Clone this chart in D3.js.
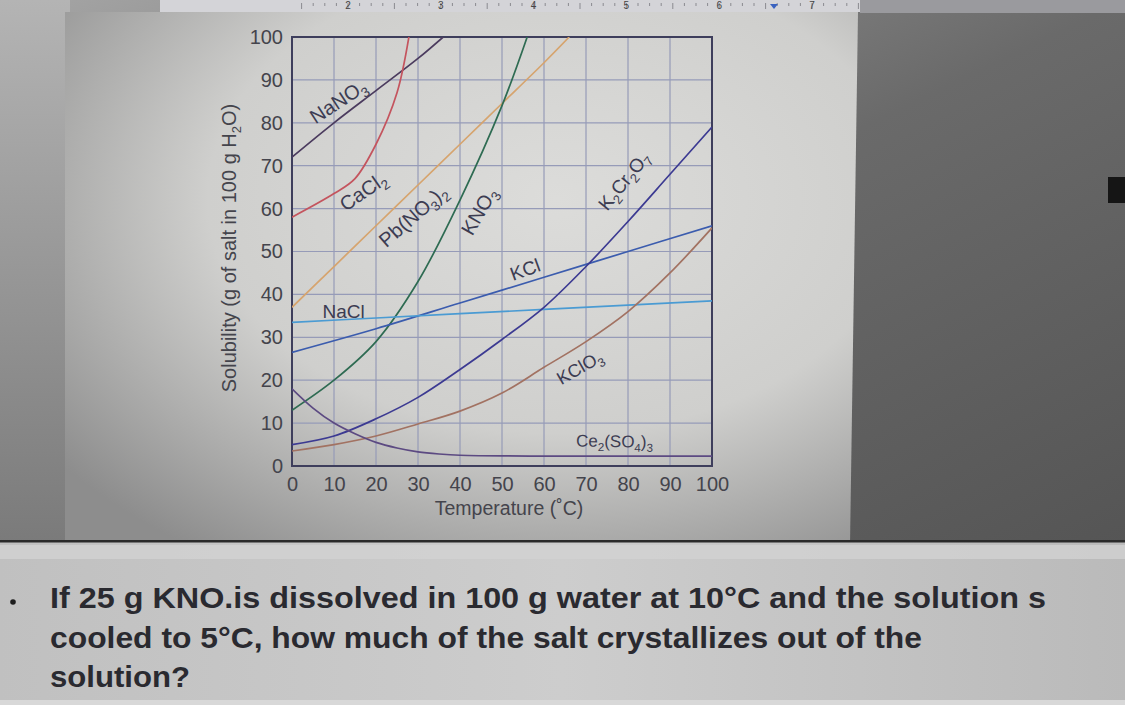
<!DOCTYPE html>
<html><head><meta charset="utf-8">
<script src="https://cdn.jsdelivr.net/npm/d3@7"></script>
<style>
html,body{margin:0;padding:0;background:#9a9a9a;}
svg{display:block;font-family:"Liberation Sans",Arial,sans-serif;}
</style></head>
<body>
<svg id="c" width="1125" height="705"></svg>
<script>
// ---------- data ----------
const xTicks = [0,10,20,30,40,50,60,70,80,90,100];
const yTicks = [0,10,20,30,40,50,60,70,80,90,100];
const NaNO3  = [[0,72],[10,80],[20,87.5],[30,95],[36,100]];
const CaCl2  = [[0,58],[10,63.5],[15,67],[20,75],[25,87],[28,101]];
const PbNO32 = [[0,37],[10,46.5],[20,56],[30,65.5],[40,75],[50,84.5],[60,94],[66,100]];
const KNO3   = [[0,13],[10,20],[20,29],[30,43],[40,62],[50,84],[56,100]];
const KCl    = [[0,26.5],[20,32],[40,38],[60,44],[80,50],[100,56]];
const NaCl   = [[0,33.5],[20,34.5],[40,35.5],[60,36.5],[80,37.5],[100,38.5]];
const KClO3  = [[0,3.5],[10,5],[20,7],[30,9.8],[40,12.8],[50,17],[60,23],[70,29],[80,36],[90,45],[100,55.5]];
const K2Cr2O7= [[0,5],[10,7],[20,11],[30,16],[40,22.5],[50,29.5],[60,37],[70,46.5],[80,57],[90,68],[100,79]];
const Ce2SO43= [[0,18],[5,13.5],[10,10],[15,7.5],[20,5.5],[25,4.2],[30,3.3],[35,2.8],[40,2.5],[60,2.3],[80,2.3],[100,2.3]];
const seriesNames = ["NaNO3","CaCl2","Pb(NO3)2","KNO3","KCl","NaCl","KClO3","K2Cr2O7","Ce2(SO4)3"];
const seriesData  = [NaNO3,CaCl2,PbNO32,KNO3,KCl,NaCl,KClO3,K2Cr2O7,Ce2SO43];
const rulerNums = ["2","3","4","5","6","7"];
const questionLines = [
  "If 25 g KNO.is dissolved in 100 g water at 10°C and the solution s",
  "cooled to 5°C, how much of the salt crystallizes out of the",
  "solution?"
];

// ---------- styling ----------
const colors = ["#4b3b5e","#c4545e","#d6a46e","#2e6b52","#3b5cae","#4a9bd3","#a27262","#3c3a92","#5c4a82"];
// label anchors (temperature, solubility), rotation, font size
const labelPos = [[11,85,-33,20],[16.9,64,-35,20],[28.8,58.3,-41,20],[44.5,59.4,-60,20],[55.5,45.8,-20,19],[12.3,36,0,19],[68.5,23,-30,18],[79,66.5,-51,19],[76.8,5.8,1,17]];

const svg = d3.select("#c");
const defs = svg.append("defs");

// background gradients
const g1 = defs.append("radialGradient").attr("id","pageG").attr("cx","0.62").attr("cy","0.35").attr("r","0.8");
g1.append("stop").attr("offset","0").attr("stop-color","#dcdcda");
g1.append("stop").attr("offset","0.55").attr("stop-color","#cfcfcd");
g1.append("stop").attr("offset","1").attr("stop-color","#8d8d8d");
const g2 = defs.append("linearGradient").attr("id","rightG").attr("x1","0").attr("x2","1").attr("y1","0").attr("y2","1");
g2.append("stop").attr("offset","0").attr("stop-color","#a6a6a6");
g2.append("stop").attr("offset","0.5").attr("stop-color","#6a6a6a");
g2.append("stop").attr("offset","1").attr("stop-color","#555555");
const g3 = defs.append("linearGradient").attr("id","leftG").attr("x1","0").attr("x2","0").attr("y1","0").attr("y2","1");
g3.append("stop").attr("offset","0").attr("stop-color","#b4b4b4");
g3.append("stop").attr("offset","1").attr("stop-color","#7a7a7a");
const g4 = defs.append("linearGradient").attr("id","botG").attr("x1","0").attr("x2","1").attr("y1","0").attr("y2","0");
g4.append("stop").attr("offset","0").attr("stop-color","#c0c0c0");
g4.append("stop").attr("offset","0.5").attr("stop-color","#cdcdcd");
g4.append("stop").attr("offset","1").attr("stop-color","#bababa");

svg.append("rect").attr("x",0).attr("y",0).attr("width",1125).attr("height",545).attr("fill","url(#rightG)");
svg.append("rect").attr("x",0).attr("y",0).attr("width",70).attr("height",545).attr("fill","url(#leftG)");
svg.append("path").attr("d","M65,12 L858,12 L850,545 L65,545 Z").attr("fill","url(#pageG)");
// ruler
svg.append("rect").attr("x",160).attr("y",0).attr("width",700).attr("height",12).attr("fill","#d4d4d8");
svg.append("rect").attr("x",860).attr("y",0).attr("width",265).attr("height",13).attr("fill","#9a9a9e");
const rs = d3.scaleLinear().domain([2,7]).range([348,812]);
const rticks = d3.range(1.5,7.6,0.125);
svg.append("g").selectAll("line").data(rticks).join("line")
  .attr("x1",d=>rs(d)).attr("x2",d=>rs(d)).attr("y1",3).attr("y2",d=>d%0.5===0?9:6)
  .attr("stroke","#8a8a90").attr("stroke-width",1);
svg.append("g").selectAll("text").data(rulerNums).join("text")
  .attr("x",d=>rs(+d)).attr("y",9).attr("text-anchor","middle")
  .attr("font-size",10).attr("fill","#444").text(d=>d);
svg.append("path").attr("d","M770,4 l8,0 l-4,5 z").attr("fill","#3a62c0");
svg.append("rect").attr("x",1108).attr("y",177).attr("width",17).attr("height",26).attr("fill","#151515");

// ---------- chart ----------
const x = d3.scaleLinear().domain([0,100]).range([292,712]);
const y = d3.scaleLinear().domain([0,100]).range([466,37]);

defs.append("clipPath").attr("id","plotClip").append("rect")
  .attr("x",x(0)).attr("y",y(100)).attr("width",x(100)-x(0)).attr("height",y(0)-y(100));

// grid
const grid = svg.append("g");
grid.selectAll(".vg").data(xTicks.slice(1,-1)).join("line")
  .attr("x1",d=>x(d)).attr("x2",d=>x(d)).attr("y1",y(0)).attr("y2",y(100))
  .attr("stroke","#969bb8").attr("stroke-width",1.2);
grid.selectAll(".hg").data(yTicks.slice(1,-1)).join("line")
  .attr("x1",x(0)).attr("x2",x(100)).attr("y1",d=>y(d)).attr("y2",d=>y(d))
  .attr("stroke","#969bb8").attr("stroke-width",1.2);

// axes
const xAxis = d3.axisBottom(x).tickValues(xTicks).tickSize(0).tickPadding(11);
const yAxis = d3.axisLeft(y).tickValues(yTicks).tickSize(0).tickPadding(9);
const gx = svg.append("g").attr("transform",`translate(0,${y(0)})`).call(xAxis);
const gy = svg.append("g").attr("transform",`translate(${x(0)},0)`).call(yAxis);
[gx,gy].forEach(g=>{
  g.select(".domain").remove();
  g.selectAll("text").attr("font-size",20).attr("fill","#44444c")
   .attr("font-family","'Liberation Sans',Arial,sans-serif");
});

// frame
svg.append("rect").attr("x",x(0)).attr("y",y(100)).attr("width",x(100)-x(0)).attr("height",y(0)-y(100))
  .attr("fill","none").attr("stroke","#3e3e5c").attr("stroke-width",2);

// curves
const line = d3.line().x(d=>x(d[0])).y(d=>y(d[1])).curve(d3.curveCatmullRom.alpha(0.5));
svg.append("g").attr("clip-path","url(#plotClip)")
  .selectAll("path").data(seriesData).join("path")
  .attr("d",line).attr("fill","none")
  .attr("stroke",(d,i)=>colors[i]).attr("stroke-width",1.7);

// labels with subscripts
function labelParts(name){
  const parts=[];
  for(let i=0;i<name.length;i++){
    const ch=name[i];
    parts.push([ch, /[0-9]/.test(ch) && i>0 && /[A-Za-z\)]/.test(name[i-1])]);
  }
  const out=[];
  parts.forEach(p=>{ if(out.length && out[out.length-1][1]===p[1]) out[out.length-1][0]+=p[0]; else out.push([p[0],p[1]]); });
  return out;
}
const lg = svg.append("g");
seriesNames.forEach((nm,i)=>{
  const [tx,ty,rot,fs]=labelPos[i];
  const t = lg.append("text")
    .attr("transform",`translate(${x(tx)},${y(ty)}) rotate(${rot})`)
    .attr("text-anchor","middle").attr("dy","0.35em")
    .attr("font-size",fs).attr("fill","#3c3c52");
  const parts = labelParts(nm);
  parts.forEach(([s,sub],k)=>{
    const ts=t.append("tspan").text(s);
    if(sub){ ts.attr("font-size",fs*0.68).attr("dy",fs*0.25); }
    else if(k>0 && parts[k-1][1]){ ts.attr("dy",-fs*0.25); }
  });
});

// axis titles
svg.append("text").attr("x",(x(0)+x(100))/2+7).attr("y",515).attr("text-anchor","middle")
  .attr("font-size",19.5).attr("fill","#44444c").text("Temperature (˚C)");
const yt = svg.append("text").attr("transform","translate(236,248) rotate(-90)")
  .attr("text-anchor","middle").attr("font-size",20).attr("fill","#44444c");
yt.append("tspan").text("Solubility (g of salt in 100 g H");
yt.append("tspan").text("2").attr("font-size",13).attr("dy",5);
yt.append("tspan").text("O)").attr("dy",-5);

// ---------- question band ----------
svg.append("rect").attr("x",0).attr("y",541).attr("width",1125).attr("height",164).attr("fill","url(#botG)");
svg.append("rect").attr("x",0).attr("y",540).attr("width",1125).attr("height",2.5).attr("fill","#2a2a2a");
svg.append("rect").attr("x",0).attr("y",545).attr("width",1125).attr("height",14).attr("fill","#d2d2d2").attr("opacity",0.8);
svg.append("rect").attr("x",0).attr("y",700).attr("width",1125).attr("height",5).attr("fill","#d8d8d8");
svg.append("circle").attr("cx",13).attr("cy",602).attr("r",2.8).attr("fill","#1e1e1e");
const qLens=[996,872,140];
const qY=[608,648,687];
svg.append("g").selectAll("text").data(questionLines).join("text")
  .attr("x",50).attr("y",(d,i)=>qY[i])
  .attr("font-size",30).attr("font-weight","bold").attr("fill","#2a2a30")
  .attr("font-family","'Liberation Sans Narrow','Liberation Sans',Arial,sans-serif")
  .attr("textLength",(d,i)=>qLens[i]).attr("lengthAdjust","spacingAndGlyphs")
  .text(d=>d);
</script>
</body></html>
